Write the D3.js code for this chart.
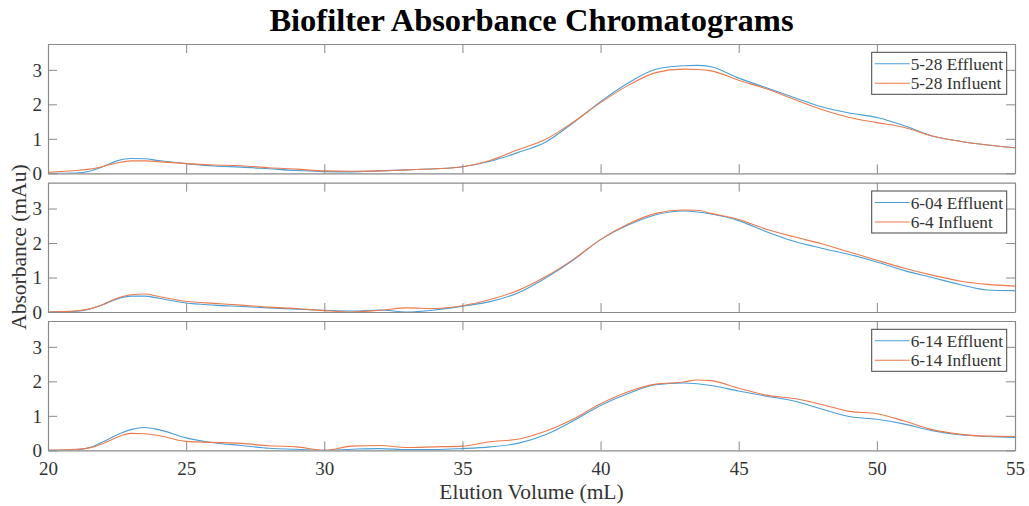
<!DOCTYPE html>
<html>
<head>
<meta charset="utf-8">
<script src="https://cdn.jsdelivr.net/npm/d3@7"></script>
<style>
  html, body { margin: 0; padding: 0; background: #fff; }
  svg { display: block; font-family: "Liberation Serif", "Times New Roman", serif; }
</style>
</head>
<body>
<svg id="chart" width="1029" height="506"></svg>
<script>
// Elution volumes (mL) shared by all traces
const volumes = [20, 21, 21.5, 22, 22.5, 23, 23.5, 24, 25, 26, 27, 28, 29, 30, 31, 32, 33, 34, 35,
  36, 37, 38, 39, 40, 41, 42, 43, 43.5, 44, 45, 46, 47, 48, 49, 50, 51, 52, 53, 54, 55];

// Absorbance (mAu) per sample
const effluent0528 = [0, 0.01, 0.06, 0.2, 0.36, 0.43, 0.42, 0.37, 0.28, 0.21, 0.18, 0.13, 0.08, 0.05, 0.04, 0.07, 0.1, 0.13, 0.19,
  0.35, 0.6, 0.9, 1.46, 2.08, 2.62, 3.02, 3.12, 3.13, 3.09, 2.76, 2.48, 2.2, 1.93, 1.75, 1.62, 1.38, 1.08, 0.93, 0.82, 0.74];
const influent0528 = [0.03, 0.08, 0.12, 0.2, 0.3, 0.36, 0.36, 0.34, 0.28, 0.24, 0.22, 0.16, 0.12, 0.07, 0.06, 0.07, 0.1, 0.13, 0.19,
  0.37, 0.68, 0.98, 1.48, 2.05, 2.55, 2.92, 3.02, 3.01, 2.97, 2.7, 2.45, 2.15, 1.85, 1.62, 1.47, 1.33, 1.08, 0.93, 0.82, 0.74];
const effluent0604 = [0, 0.02, 0.08, 0.22, 0.38, 0.46, 0.46, 0.4, 0.26, 0.2, 0.16, 0.12, 0.08, 0.05, 0.03, 0.06, 0.0, 0.06, 0.17,
  0.3, 0.55, 0.98, 1.5, 2.1, 2.52, 2.82, 2.93, 2.9, 2.84, 2.65, 2.33, 2.05, 1.85, 1.67, 1.45, 1.2, 1.0, 0.8, 0.64, 0.62];
const influent0604 = [0, 0.03, 0.09, 0.22, 0.4, 0.5, 0.52, 0.45, 0.31, 0.25, 0.2, 0.14, 0.1, 0.04, 0.0, 0.05, 0.12, 0.1, 0.18,
  0.36, 0.62, 1.02, 1.52, 2.1, 2.55, 2.86, 2.96, 2.95, 2.86, 2.68, 2.4, 2.18, 1.98, 1.74, 1.5, 1.27, 1.07, 0.9, 0.8, 0.75];
const effluent0614 = [0, 0.01, 0.08, 0.25, 0.45, 0.6, 0.66, 0.6, 0.36, 0.22, 0.14, 0.06, 0.03, 0.0, 0.03, 0.05, 0.02, 0.02, 0.05,
  0.1, 0.2, 0.45, 0.85, 1.3, 1.65, 1.9, 1.95, 1.93, 1.88, 1.72, 1.57, 1.43, 1.2, 0.98, 0.9, 0.76, 0.57, 0.45, 0.4, 0.37];
const influent0614 = [0, 0.03, 0.07, 0.2, 0.38, 0.49, 0.48, 0.43, 0.26, 0.23, 0.2, 0.13, 0.1, 0.0, 0.12, 0.14, 0.08, 0.1, 0.12,
  0.25, 0.32, 0.55, 0.9, 1.35, 1.7, 1.92, 1.98, 2.04, 2.02, 1.8, 1.6, 1.5, 1.33, 1.13, 1.06, 0.85, 0.6, 0.47, 0.41, 0.4];

const panelLabels = [
  ["5-28 Effluent", "5-28 Influent"],
  ["6-04 Effluent", "6-4 Influent"],
  ["6-14 Effluent", "6-14 Influent"]
];
const panelSeries = [
  [effluent0528, influent0528],
  [effluent0604, influent0604],
  [effluent0614, influent0614]
];
const xTicks = [20, 25, 30, 35, 40, 45, 50, 55];
const yTicks = [0, 1, 2, 3];

const colors = ["#4a9fd8", "#ec7a4c"];
const axisColor = "#8a8a8a";
const textColor = "#333";

const svg = d3.select("#chart");
const left = 48, right = 1015;
const panelTops = [44, 182.7, 321];
const panelH = 129.3;

const x = d3.scaleLinear().domain([20, 55]).range([left, right]);

// Title
svg.append("text")
  .attr("x", (left + right) / 2).attr("y", 31)
  .attr("text-anchor", "middle")
  .attr("font-size", 32.5).attr("font-weight", "bold")
  .attr("fill", "#000")
  .text("Biofilter Absorbance Chromatograms");

panelSeries.forEach((series, p) => {
  const top = panelTops[p], bottom = top + panelH;
  const y = d3.scaleLinear().domain([0, 3.75]).range([bottom, top]);
  const g = svg.append("g");

  const clipId = "clip" + p;
  svg.append("clipPath").attr("id", clipId)
    .append("rect").attr("x", left).attr("y", top).attr("width", right - left).attr("height", panelH);

  // Curves
  const line = d3.line()
    .x((d, i) => x(volumes[i]))
    .y(d => y(d))
    .curve(d3.curveMonotoneX);
  series.forEach((vals, s) => {
    g.append("path")
      .datum(vals)
      .attr("clip-path", `url(#${clipId})`)
      .attr("fill", "none")
      .attr("stroke", colors[s])
      .attr("stroke-width", 1.1)
      .attr("d", line);
  });

  // Axes: ticks pointing inward on all four sides
  const tickLen = 9;
  const axB = d3.axisBottom(x).tickValues(xTicks).tickSizeInner(-tickLen).tickSizeOuter(0)
    .tickFormat(p === 2 ? d3.format("d") : () => "");
  const axT = d3.axisTop(x).tickValues(xTicks).tickSizeInner(-tickLen).tickSizeOuter(0).tickFormat(() => "");
  const axL = d3.axisLeft(y).tickValues(yTicks).tickSizeInner(-tickLen).tickSizeOuter(0).tickFormat(d3.format("d"));
  const axR = d3.axisRight(y).tickValues(yTicks).tickSizeInner(-tickLen).tickSizeOuter(0).tickFormat(() => "");

  const gb = g.append("g").attr("transform", `translate(0,${bottom})`).call(axB);
  const gt = g.append("g").attr("transform", `translate(0,${top})`).call(axT);
  const gl = g.append("g").attr("transform", `translate(${left},0)`).call(axL);
  const gr = g.append("g").attr("transform", `translate(${right},0)`).call(axR);

  [gb, gt, gl, gr].forEach(a => {
    a.selectAll("path.domain").attr("stroke", axisColor).attr("stroke-width", 1.2);
    a.selectAll(".tick line").attr("stroke", axisColor).attr("stroke-width", 1);
    a.selectAll(".tick text").attr("fill", textColor)
      .attr("font-family", "Liberation Serif, Times New Roman, serif")
      .attr("font-size", 19);
  });
  gl.selectAll(".tick text").attr("x", -6).attr("dy", "0.33em");
  gb.selectAll(".tick text").attr("y", 25).attr("dy", 0);

  // Legend
  const lx = 871.7, ly = top + 8.3, lw = 135, lh = 42;
  const lg = g.append("g");
  lg.append("rect").attr("x", lx).attr("y", ly).attr("width", lw).attr("height", lh)
    .attr("fill", "#fff").attr("stroke", "#444").attr("stroke-width", 1);
  panelLabels[p].forEach((lab, s) => {
    const yy = ly + 11.5 + s * 19.5;
    lg.append("line").attr("x1", lx + 3).attr("x2", lx + 38).attr("y1", yy).attr("y2", yy)
      .attr("stroke", colors[s]).attr("stroke-width", 1.1);
    lg.append("text").attr("x", lx + 39).attr("y", yy).attr("dy", "0.35em")
      .attr("font-size", 17.3).attr("fill", textColor).text(lab);
  });
});

// Axis titles
svg.append("text")
  .attr("x", (left + right) / 2).attr("y", 499)
  .attr("text-anchor", "middle").attr("font-size", 21.5).attr("fill", textColor)
  .text("Elution Volume (mL)");
svg.append("text")
  .attr("transform", `translate(26,${(panelTops[0] + panelTops[2] + panelH) / 2}) rotate(-90)`)
  .attr("text-anchor", "middle").attr("font-size", 21.5).attr("fill", textColor)
  .text("Absorbance (mAu)");
</script>
</body>
</html>
